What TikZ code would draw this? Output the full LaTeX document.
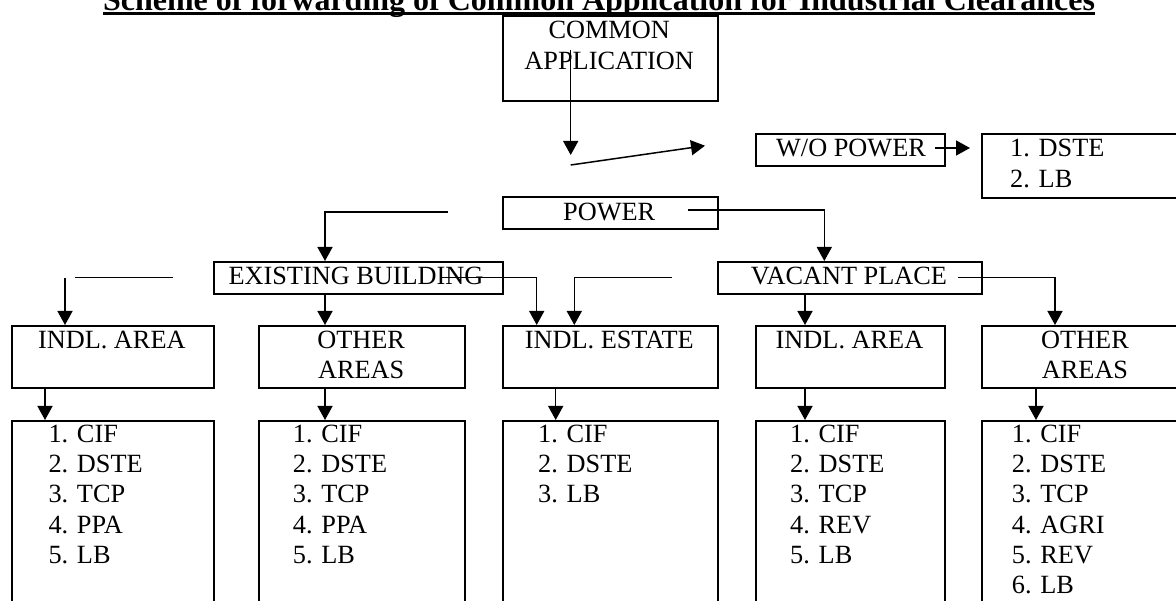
\documentclass[tikz,border=0pt]{standalone}
\usepackage{fontspec}
\setmainfont{Liberation Serif}
\usetikzlibrary{arrows.meta}
\begin{document}
\begin{tikzpicture}[x=1pt,y=-1pt,
  box/.style={draw,line width=2.1pt,inner sep=0pt,anchor=north west},
  conn/.style={line width=1.5pt},
  arr/.style={line width=1.5pt,-{Triangle[width=15pt,length=14pt]}},
  txt/.style={inner sep=0pt,anchor=base,font=\fontsize{26.3}{30}\selectfont},
  lst/.style={inner sep=0pt,anchor=base west,font=\fontsize{26.3}{30}\selectfont},
  ttl/.style={inner sep=0pt,anchor=base,font=\fontsize{32}{36}\selectfont\bfseries},
]
\useasboundingbox (0,0) rectangle (1176,601);
\clip (0,0) rectangle (1176,601);

% title
\node[ttl] (title) at (599,10.5) {Scheme of forwarding of Common Application for Industrial Clearances};
\fill ([yshift=-1.3pt]title.base west) rectangle ([yshift=-4.3pt]title.base east);

% boxes
\node[box,minimum width=215pt,minimum height=85pt] (ca) at (501.7,15) {};
\node[box,minimum width=189pt,minimum height=32.3pt] (wo) at (755,132.7) {};
\node[box,minimum width=209pt,minimum height=64pt] (wl) at (981,133) {};
\node[box,minimum width=215pt,minimum height=32pt] (pw) at (501.7,196) {};
\node[box,minimum width=289pt,minimum height=31.7pt] (eb) at (212.7,261) {};
\node[box,minimum width=264.3pt,minimum height=31.7pt] (vp) at (716.7,261) {};
\node[box,minimum width=201.7pt,minimum height=62.3pt] (a1) at (11,325) {};
\node[box,minimum width=205.7pt,minimum height=62.3pt] (a2) at (258.3,325) {};
\node[box,minimum width=215pt,minimum height=62.3pt] (a3) at (501.7,325) {};
\node[box,minimum width=189pt,minimum height=62.3pt] (a4) at (755,325) {};
\node[box,minimum width=208pt,minimum height=62.3pt] (a5) at (981,325) {};
\node[box,minimum width=201.7pt,minimum height=200pt] (b1) at (11,420) {};
\node[box,minimum width=205.7pt,minimum height=200pt] (b2) at (258.3,420) {};
\node[box,minimum width=215pt,minimum height=200pt] (b3) at (501.7,420) {};
\node[box,minimum width=189pt,minimum height=200pt] (b4) at (755,420) {};
\node[box,minimum width=208pt,minimum height=200pt] (b5) at (981,420) {};

% texts
\node[txt] (cat1) at (609.2,38.5) {COMMON};
\node[txt] (cat2) at (609.2,70) {APPLICATION};
\node[txt] (wot) at (851,157) {W/O POWER};
\node[lst] (wl1) at (1010,157) {\makebox[28.5pt][l]{1.}DSTE};
\node[lst] (wl2) at (1010,188) {\makebox[28.5pt][l]{2.}LB};
\node[txt] (pwt) at (609.2,221) {POWER};
\node[txt] (ebt) at (356,285) {EXISTING BUILDING};
\node[txt] (vpt) at (849,285) {VACANT PLACE};
\node[txt] (a1t) at (111.8,349) {INDL. AREA};
\node[txt] (a2t1) at (361.2,349) {OTHER};
\node[txt] (a2t2) at (361.2,379) {AREAS};
\node[txt] (a3t) at (609.2,349) {INDL. ESTATE};
\node[txt] (a4t) at (849.5,349) {INDL. AREA};
\node[txt] (a5t1) at (1085,349) {OTHER};
\node[txt] (a5t2) at (1085,379) {AREAS};

% lists
\foreach \t [count=\i] in {CIF,DSTE,TCP,PPA,LB}
  \node[lst] (l1-\i) at (48.3,{442.5+30.2*(\i-1)}) {\makebox[28.5pt][l]{\i.}\t};
\foreach \t [count=\i] in {CIF,DSTE,TCP,PPA,LB}
  \node[lst] (l2-\i) at (292.7,{442.5+30.2*(\i-1)}) {\makebox[28.5pt][l]{\i.}\t};
\foreach \t [count=\i] in {CIF,DSTE,LB}
  \node[lst] (l3-\i) at (538,{442.5+30.2*(\i-1)}) {\makebox[28.5pt][l]{\i.}\t};
\foreach \t [count=\i] in {CIF,DSTE,TCP,REV,LB}
  \node[lst] (l4-\i) at (790,{442.5+30.2*(\i-1)}) {\makebox[28.5pt][l]{\i.}\t};
\foreach \t [count=\i] in {CIF,DSTE,TCP,AGRI,REV,LB}
  \node[lst] (l5-\i) at (1011.7,{442.5+30.2*(\i-1)}) {\makebox[28.5pt][l]{\i.}\t};

% helper coordinates
\coordinate (cs) at (570.7,50);
\coordinate (ce) at (570.7,155);
\coordinate (d1) at (570.7,165);
\coordinate (d2) at (705,145.7);
\coordinate (wos) at (935,148);
\coordinate (woe) at (970,148);
\coordinate (pl) at (448,212);
\coordinate (pr) at (688,210);
\coordinate (el1) at (75,277.3);
\coordinate (el2) at (172.7,277.3);
\coordinate (el3) at (65,278);
\coordinate (e4) at (440,277.3);
\coordinate (e5) at (671.7,277.3);
\coordinate (v7) at (958.3,277.7);
\coordinate (x325) at (325,0);
\coordinate (x824) at (824.3,0);
\coordinate (x536) at (536.7,0);
\coordinate (x574) at (574.3,0);
\coordinate (x805) at (805,0);
\coordinate (x1055) at (1055,0);
\coordinate (x45) at (45,0);
\coordinate (x555) at (555.7,0);
\coordinate (x1036) at (1036,0);

% connectors
\draw[arr] (cs) -- (ce);
\draw[arr] (d1) -- (d2);
\draw[arr] (wos) -- (woe);
\draw[arr] (pl) -| (eb.north -| x325);
\draw[arr] (pr) -| (vp.north -| x824);
\draw[conn] (el1) -- (el2);
\draw[arr] (el3) -- (a1.north -| el3);
\draw[arr] (eb.south -| x325) -- (a2.north -| x325);
\draw[arr] (e4) -| (a3.north -| x536);
\draw[arr] (e5) -| (a3.north -| x574);
\draw[arr] (vp.south -| x805) -- (a4.north -| x805);
\draw[arr] (v7) -| (a5.north -| x1055);
\draw[arr] (a1.south -| x45) -- (b1.north -| x45);
\draw[arr] (a2.south -| x325) -- (b2.north -| x325);
\draw[arr] (a3.south -| x555) -- (b3.north -| x555);
\draw[arr] (a4.south -| x805) -- (b4.north -| x805);
\draw[arr] (a5.south -| x1036) -- (b5.north -| x1036);
\end{tikzpicture}
\end{document}
